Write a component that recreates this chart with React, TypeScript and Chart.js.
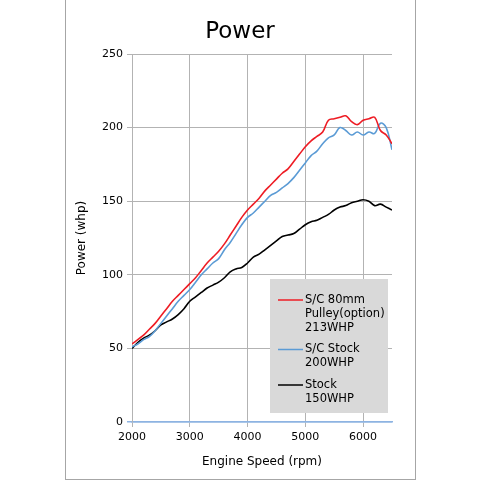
import React, { useEffect, useRef } from "react";
import { Chart, registerables } from "chart.js";

Chart.register(...registerables);

const TITLE = "Power";
const X_TITLE = "Engine Speed (rpm)";
const Y_TITLE = "Power (whp)";

const RPM = [
  2000, 2100, 2200, 2300, 2400, 2500, 2600, 2700, 2800, 2900,
  3000, 3100, 3200, 3300, 3400, 3500, 3600, 3700, 3800, 3900,
  4000, 4100, 4200, 4300, 4400, 4500, 4600, 4700, 4800, 4900,
  5000, 5100, 5200, 5300, 5400, 5500, 5600, 5700, 5800, 5900,
  6000, 6100, 6200, 6300, 6400, 6500,
];

const SC_80MM = [
  53, 56, 59, 63, 67, 72, 77, 82, 86, 90,
  94, 98, 103, 108, 112, 116, 121, 127, 133, 139,
  144, 148, 152, 157, 161, 165, 169, 172, 177, 182,
  187, 191, 194, 197, 205, 206, 207, 208, 204, 202,
  205, 206, 207, 198, 195, 189,
];

const SC_STOCK = [
  51, 53, 56, 58, 62, 67, 72, 77, 82, 86,
  90, 95, 100, 104, 108, 111, 117, 122, 128, 134,
  139, 142, 146, 150, 154, 156, 159, 162, 166, 171,
  176, 181, 184, 189, 193, 195, 200, 198, 195, 197,
  195, 197, 196, 203, 200, 185,
];

const STOCK = [
  50, 54, 57, 59, 62, 66, 68, 70, 73, 77,
  82, 85, 88, 91, 93, 95, 98, 102, 104, 105,
  108, 112, 114, 117, 120, 123, 126, 127, 128, 131,
  134, 136, 137, 139, 141, 144, 146, 147, 149, 150,
  151, 150, 147, 148, 146, 144,
];

const X_TICKS = [2000, 3000, 4000, 5000, 6000];
const Y_TICKS = [0, 50, 100, 150, 200, 250];

const SERIES_LABELS = [
  ["S/C 80mm", "Pulley(option)", "213WHP"],
  ["S/C Stock", "200WHP"],
  ["Stock", "150WHP"],
];
const SERIES_COLORS = ["#ee1c24", "#5b9bd5", "#000000"];
const SERIES_VALUES = [SC_80MM, SC_STOCK, STOCK];

const FONT = '"DejaVu Sans", Verdana, sans-serif';
const GRID = "#b3b3b3";
const AXIS_BLUE = "#8db3e2";

const titlePlugin = {
  id: "customTitle",
  afterDraw(chart: any) {
    const ctx = chart.ctx;
    ctx.save();
    ctx.font = `23px ${FONT}`;
    ctx.fillStyle = "#000";
    ctx.textAlign = "center";
    ctx.textBaseline = "alphabetic";
    ctx.fillText(TITLE, chart.width / 2, 37.5);
    ctx.restore();
  },
};

const legendPlugin = {
  id: "boxLegend",
  afterDatasetsDraw(chart: any) {
    const { ctx, chartArea } = chart;
    const w = 118;
    const h = 134;
    const x0 = chartArea.right - 4 - w;
    const y0 = chartArea.bottom - 9 - h;
    ctx.save();
    ctx.fillStyle = "#d9d9d9";
    ctx.fillRect(x0, y0, w, h);
    ctx.font = `11.5px ${FONT}`;
    ctx.textAlign = "left";
    ctx.textBaseline = "middle";
    let y = y0 + 21;
    chart.data.datasets.forEach((ds: any, i: number) => {
      const lines: string[] = SERIES_LABELS[i];
      ctx.strokeStyle = ds.borderColor;
      ctx.lineWidth = 1.5;
      ctx.beginPath();
      ctx.moveTo(x0 + 8, y);
      ctx.lineTo(x0 + 33, y);
      ctx.stroke();
      ctx.fillStyle = "#000";
      lines.forEach((t, j) => ctx.fillText(t, x0 + 35, y + j * 14));
      y += lines.length * 14 + 7.5;
    });
    ctx.restore();
  },
};

export default function App() {
  const ref = useRef<HTMLCanvasElement | null>(null);

  useEffect(() => {
    if (!ref.current) return;
    const chart = new Chart(ref.current, {
      type: "line",
      data: {
        datasets: SERIES_VALUES.map((vals, i) => ({
          label: SERIES_LABELS[i].join(" "),
          data: RPM.map((x, k) => ({ x, y: vals[k] })),
          borderColor: SERIES_COLORS[i],
          backgroundColor: SERIES_COLORS[i],
          borderWidth: 1.6,
          pointRadius: 0,
          tension: 0.4,
          fill: false,
        })),
      },
      options: {
        animation: false,
        responsive: false,
        devicePixelRatio: 1,
        layout: { padding: { top: 54, right: 22, bottom: 0, left: 0 } },
        plugins: {
          legend: { display: false },
          title: { display: false },
          tooltip: { enabled: false },
        },
        scales: {
          x: {
            type: "linear",
            min: 2000,
            max: 6500,
            afterBuildTicks: (s: any) => {
              s.ticks = X_TICKS.map((v) => ({ value: v }));
            },
            afterFit: (s: any) => {
              s.height = 57;
            },
            grid: { color: GRID, lineWidth: 1, tickLength: 5 },
            border: { display: true, color: AXIS_BLUE, width: 1.5 },
            ticks: {
              padding: 4,
              color: "#000",
              font: { family: FONT, size: 11 },
              maxRotation: 0,
              callback: (v: any) => String(v),
            },
            title: {
              display: true,
              text: X_TITLE,
              color: "#000",
              font: { family: FONT, size: 12 },
              padding: { top: 4, bottom: 9.5 },
            },
          },
          y: {
            type: "linear",
            min: 0,
            max: 250,
            afterBuildTicks: (s: any) => {
              s.ticks = Y_TICKS.map((v) => ({ value: v }));
            },
            afterFit: (s: any) => {
              s.width = 66;
            },
            grid: {
              color: (c: any) => (c.tick && c.tick.value === 0 ? AXIS_BLUE : GRID),
              lineWidth: (c: any) => (c.tick && c.tick.value === 0 ? 1.5 : 1),
              tickLength: 5,
            },
            border: { display: true, color: GRID, width: 1 },
            ticks: {
              padding: 4,
              color: "#000",
              font: { family: FONT, size: 11 },
            },
            title: {
              display: true,
              text: Y_TITLE,
              color: "#000",
              font: { family: FONT, size: 12 },
              padding: { top: 8.8, bottom: 0 },
            },
          },
        },
      },
      plugins: [titlePlugin, legendPlugin],
    } as any);
    return () => chart.destroy();
  }, []);

  return (
    <div
      style={{
        position: "absolute",
        left: 0,
        top: 0,
        width: 480,
        height: 480,
        background: "#fff",
        overflow: "hidden",
      }}
    >
      <div
        style={{
          position: "absolute",
          left: 65,
          top: -1,
          width: 351,
          height: 481,
          boxSizing: "border-box",
          border: "1px solid #a6a6a6",
        }}
      />
      <canvas
        ref={ref}
        width={348}
        height={479}
        style={{ position: "absolute", left: 66, top: 0, width: 348, height: 479 }}
      />
    </div>
  );
}
